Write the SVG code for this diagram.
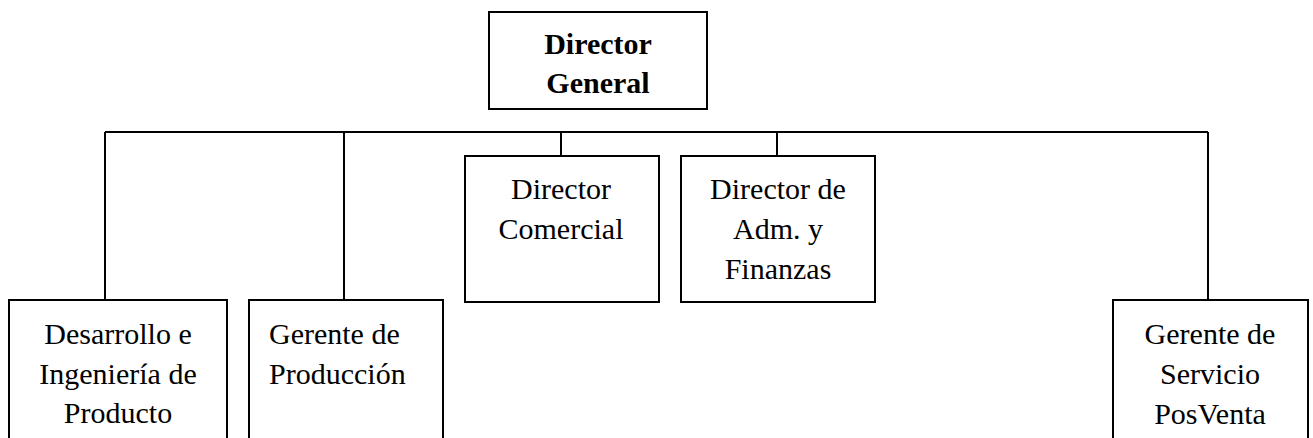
<svg xmlns="http://www.w3.org/2000/svg" width="1313" height="438" viewBox="0 0 1313 438">
<style>
.box{fill:#fff;stroke:#000;stroke-width:2}
.ln{fill:none;stroke:#000;stroke-width:2}
text{font-family:"Liberation Serif","Times New Roman",serif;font-size:30px;fill:#000;text-anchor:middle}
.b{font-weight:bold}
.l{text-anchor:start}
</style>
<rect width="1313" height="438" fill="#fff"/>
<g id="connectors">
<path class="ln" d="M105,132 H1208 M105,132 V300 M344,132 V300 M561,132 V156 M777,132 V156 M1208,132 V300"/>
</g>
<g id="director-general">
<rect class="box" x="489" y="12" width="218" height="97"/>
<text class="b" x="598" y="54">Director</text>
<text class="b" x="598" y="93">General</text>
</g>
<g id="director-comercial">
<rect class="box" x="465" y="156" width="194" height="146"/>
<text x="561" y="199">Director</text>
<text x="561" y="239">Comercial</text>
</g>
<g id="director-adm">
<rect class="box" x="681" y="156" width="194" height="146"/>
<text x="778" y="199">Director de</text>
<text x="778" y="239">Adm. y</text>
<text x="778" y="279">Finanzas</text>
</g>
<g id="desarrollo">
<rect class="box" x="9" y="300" width="218" height="160"/>
<text x="118" y="344">Desarrollo e</text>
<text x="118" y="384">Ingeniería de</text>
<text x="118" y="423">Producto</text>
</g>
<g id="produccion">
<rect class="box" x="249" y="300" width="194" height="160"/>
<text class="l" x="269" y="344">Gerente de</text>
<text class="l" x="269" y="384">Producción</text>
</g>
<g id="posventa">
<rect class="box" x="1113" y="300" width="195" height="160"/>
<text x="1210" y="344">Gerente de</text>
<text x="1210" y="384">Servicio</text>
<text x="1210" y="424">PosVenta</text>
</g>
</svg>
